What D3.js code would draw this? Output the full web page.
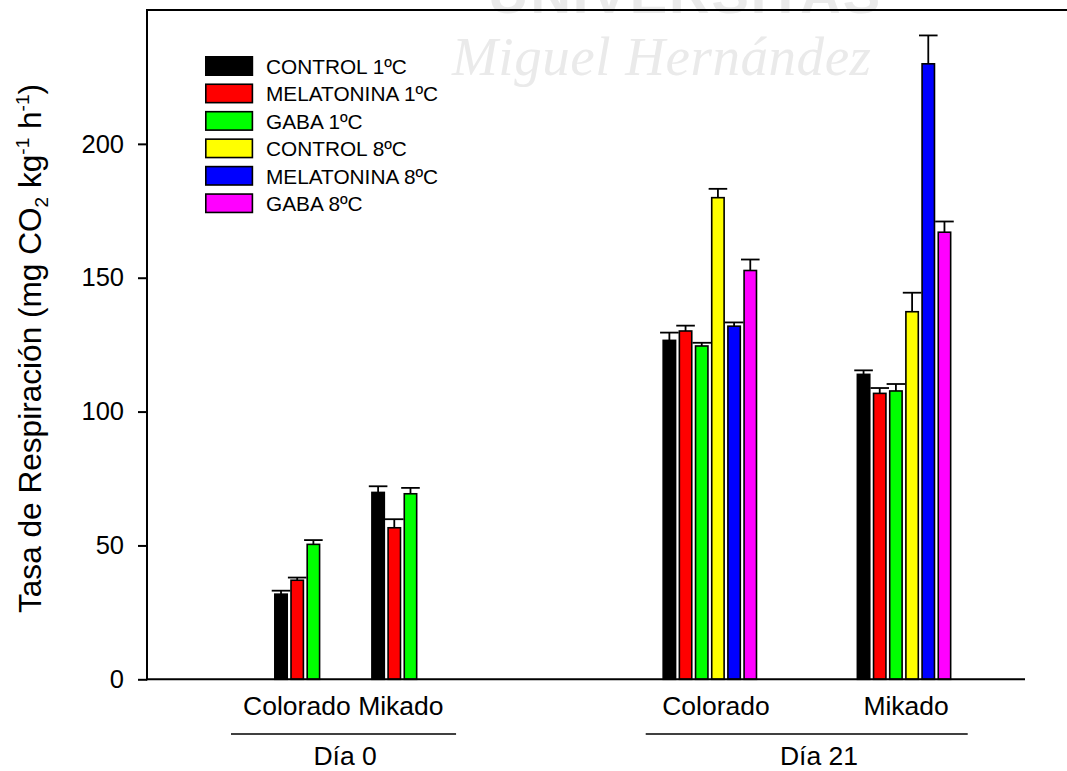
<!DOCTYPE html>
<html>
<head>
<meta charset="utf-8">
<script src="https://cdn.jsdelivr.net/npm/d3@7/dist/d3.min.js"></script>
<style>
  html, body { margin: 0; padding: 0; background: #fff; }
  svg { display: block; font-family: "Liberation Sans", Arial, sans-serif; }
</style>
</head>
<body>
<svg id="chart" width="1067" height="771"></svg>
<script>
// Respiration rate per cultivar, sampling day and treatment (mean ± SE)
const treatments = ["CONTROL 1ºC", "MELATONINA 1ºC", "GABA 1ºC", "CONTROL 8ºC", "MELATONINA 8ºC", "GABA 8ºC"];
const groupDay = ["Día 0", "Día 0", "Día 21", "Día 21"];
const groupCultivar = ["Colorado", "Mikado", "Colorado", "Mikado"];
const means = [
  [31.8, 37.0, 50.4],
  [69.8, 56.6, 69.3],
  [126.6, 130.1, 124.5, 179.9, 131.9, 152.7],
  [113.9, 106.8, 107.7, 137.3, 229.9, 167.0]
];
const errors = [
  [1.3, 1.0, 1.6],
  [2.3, 3.2, 2.2],
  [2.9, 2.0, 1.2, 3.3, 1.4, 4.1],
  [1.5, 2.0, 2.6, 7.1, 10.6, 4.0]
];
const yTicks = [0, 50, 100, 150, 200];
const days = ["Día 0", "Día 21"];

// ---- styling / layout ----
const palette = ["#000000", "#ff0000", "#00ff00", "#ffff00", "#0000ff", "#ff00ff"];
const color = d3.scaleOrdinal().domain(treatments).range(palette);

const svg = d3.select("#chart");
const plotLeft = 147, plotRight = 1025, plotTop = 10, plotBottom = 679.3;

// y: respiration rate
const y = d3.scaleLinear().domain([0, 250]).range([plotBottom, plotTop]);
// x: measured in bar slots (one slot per treatment bar)
const x = d3.scaleLinear().domain([-7.85, 46.41]).range([plotLeft, plotRight]);
const groupSlot = d3.scaleOrdinal().domain([0, 1, 2, 3]).range([0, 6, 24, 36]);
// small horizontal nudges of the cultivar labels, in px
const labelNudge = d3.scaleOrdinal().domain([0, 1, 2, 3]).range([-1.4, 5.5, 5, 1]);
const barW = 12.4, barStroke = 1.6, capHalf = 9.3;
// day brackets under the cultivar labels, in slot units
const dayBracket = d3.scaleOrdinal().domain(days).range([[-2.66, 11.25], [22.97, 42.87]]);
const dayLabelAt = d3.scaleOrdinal().domain(days).range([4.39, 33.68]);

// faint institutional watermark in the background
const wm = svg.append("g").attr("class", "watermark").attr("fill", "#eaeaea");
wm.append("text")
  .attr("x", 452).attr("y", 75)
  .style("font-family", "'Liberation Serif', 'DejaVu Serif', serif")
  .style("font-style", "italic")
  .style("font-size", "55px")
  .attr("textLength", 419)
  .text("Miguel Hernández");
wm.append("text")
  .attr("x", 488).attr("y", 13)
  .style("font-weight", "bold")
  .style("font-size", "56px")
  .attr("textLength", 392)
  .text("UNIVERSITAS");

// bars
const bars = svg.append("g").attr("class", "bars");
means.forEach((row, g) => {
  row.forEach((v, i) => {
    const x0 = x(groupSlot(g) + i);
    bars.append("rect")
      .attr("x", x0 + barStroke / 2)
      .attr("y", y(v))
      .attr("width", barW)
      .attr("height", y(0) - y(v))
      .attr("fill", color(treatments[i]))
      .attr("stroke", "#000")
      .attr("stroke-width", barStroke);
  });
});

// error bars (upper half only)
const errG = svg.append("g").attr("class", "errors").attr("stroke", "#000").attr("stroke-width", 1.8);
means.forEach((row, g) => {
  row.forEach((v, i) => {
    const cx = x(groupSlot(g) + i) + barStroke / 2 + barW / 2;
    const yt = y(v + errors[g][i]);
    errG.append("line").attr("x1", cx).attr("x2", cx).attr("y1", y(v)).attr("y2", yt);
    errG.append("line").attr("x1", cx - capHalf).attr("x2", cx + capHalf).attr("y1", yt).attr("y2", yt);
  });
});

// y axis
const yAxis = svg.append("g")
  .attr("transform", `translate(${plotLeft},0)`)
  .call(d3.axisLeft(y).tickValues(yTicks).tickSize(9).tickPadding(14).tickSizeOuter(0));
yAxis.select(".domain").remove();
yAxis.selectAll(".tick line").attr("stroke", "#000").attr("stroke-width", 2);
yAxis.selectAll(".tick text").attr("fill", "#000").style("font-size", "25.5px")
  .style("font-family", "'Liberation Sans', Arial, sans-serif");

// frame lines: left, top and baseline
svg.append("line").attr("x1", plotLeft).attr("x2", plotLeft).attr("y1", plotTop).attr("y2", plotBottom + 1)
  .attr("stroke", "#000").attr("stroke-width", 2);
svg.append("line").attr("x1", plotLeft - 1).attr("x2", 1067).attr("y1", plotTop).attr("y2", plotTop)
  .attr("stroke", "#000").attr("stroke-width", 2);
svg.append("line").attr("x1", plotLeft - 1).attr("x2", plotRight).attr("y1", y(0)).attr("y2", y(0))
  .attr("stroke", "#000").attr("stroke-width", 2);

// cultivar labels
const labels = svg.append("g").style("font-size", "26.5px").attr("fill", "#000").attr("text-anchor", "middle");
means.forEach((row, g) => {
  const cx = (x(groupSlot(g)) + x(groupSlot(g) + row.length)) / 2 + labelNudge(g);
  labels.append("text").attr("x", cx).attr("y", 715).text(groupCultivar[g]);
});

// day brackets
days.forEach(d => {
  const [a, b] = dayBracket(d);
  svg.append("line").attr("x1", x(a)).attr("x2", x(b)).attr("y1", 734).attr("y2", 734)
    .attr("stroke", "#000").attr("stroke-width", 1.3);
  svg.append("text").attr("x", x(dayLabelAt(d))).attr("y", 765)
    .attr("text-anchor", "middle").style("font-size", "26.5px").attr("fill", "#000").text(d);
});

// y axis title with sub/superscripts
const yTitle = svg.append("text")
  .attr("transform", "translate(40.5,613) rotate(-90)")
  .attr("x", 0).attr("y", 0)
  .style("font-size", "31.6px").attr("fill", "#000");
yTitle.append("tspan").text("Tasa de Respiración (mg CO");
yTitle.append("tspan").attr("dy", 7).style("font-size", "19px").text("2");
yTitle.append("tspan").attr("dy", -7).text(" kg");
yTitle.append("tspan").attr("dy", -12).style("font-size", "19px").text("-1");
yTitle.append("tspan").attr("dy", 12).text(" h");
yTitle.append("tspan").attr("dy", -12).style("font-size", "19px").text("-1");
yTitle.append("tspan").attr("dy", 12).text(")");

// legend
const legend = svg.append("g").attr("class", "legend");
treatments.forEach((t, i) => {
  const cy = 66 + i * 27.45;
  legend.append("rect")
    .attr("x", 205.8).attr("y", cy - 9.2)
    .attr("width", 46.6).attr("height", 18.4)
    .attr("fill", color(t)).attr("stroke", "#000").attr("stroke-width", 1.6);
  legend.append("text")
    .attr("x", 266).attr("y", cy + 8)
    .style("font-size", "20.8px").attr("fill", "#000")
    .text(t);
});
</script>
</body>
</html>
